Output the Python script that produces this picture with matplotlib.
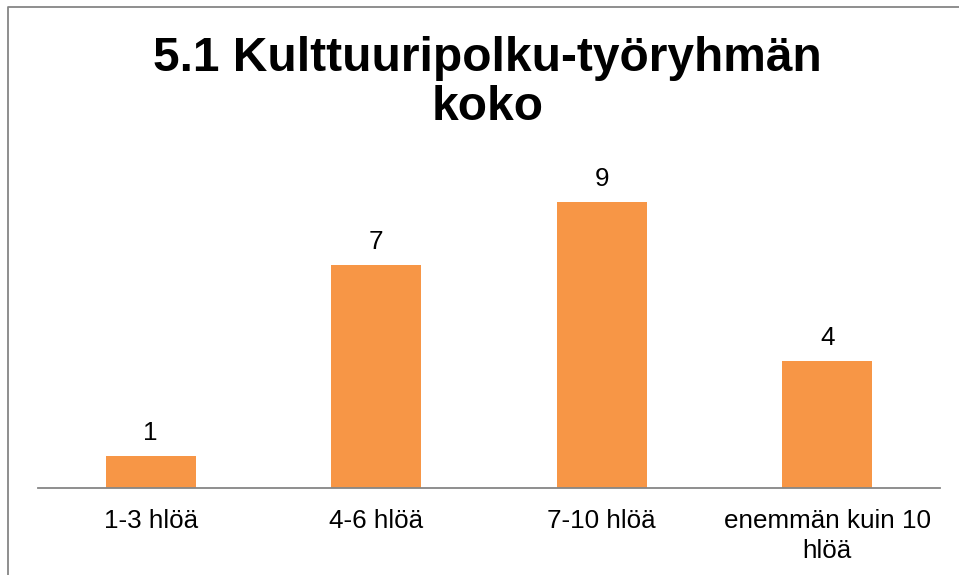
import matplotlib.pyplot as plt
from matplotlib.lines import Line2D

categories = ["1-3 hlöä", "4-6 hlöä", "7-10 hlöä", "enemmän kuin 10\nhlöä"]
counts = [1, 7, 9, 4]
title = "5.1 Kulttuuripolku-työryhmän\nkoko"

plt.rcParams["font.family"] = ["Liberation Sans", "DejaVu Sans"]

fig = plt.figure(figsize=(9.59, 5.75), dpi=100)
ax = fig.add_axes([0.0396, 0.1513, 0.9406, 0.553])

x = range(len(categories))
ax.bar(x, counts, width=0.4, color="#F79646")
for xi, v in zip(x, counts):
    ax.annotate(str(v), (xi, v), xytext=(0, 11.5), textcoords="offset points",
                ha="center", va="baseline", fontsize=18.7, color="#000000")

ax.set_xlim(-0.5, len(categories) - 0.5)
ax.set_ylim(0, 10)
ax.set_xticks(list(x))
ax.set_xticklabels(categories, fontsize=18.7, linespacing=1.3)
ax.tick_params(axis="x", length=0, pad=15)
ax.set_yticks([])
for s in ["top", "left", "right"]:
    ax.spines[s].set_visible(False)
ax.spines["bottom"].set_color("#868686")
ax.spines["bottom"].set_linewidth(1.3)

fig.text(0.5085, 1 - 120 / 575, title, ha="center", va="baseline",
         fontsize=34.5, fontweight="bold", linespacing=1.12)

# outer frame (top and left only visible in the crop)
fig.add_artist(Line2D([8 / 959, 8 / 959, 1], [0, 1 - 6.5 / 575, 1 - 6.5 / 575],
                      transform=fig.transFigure, color="#868686", lw=1.3))

fig.savefig("out.png", dpi=100)
